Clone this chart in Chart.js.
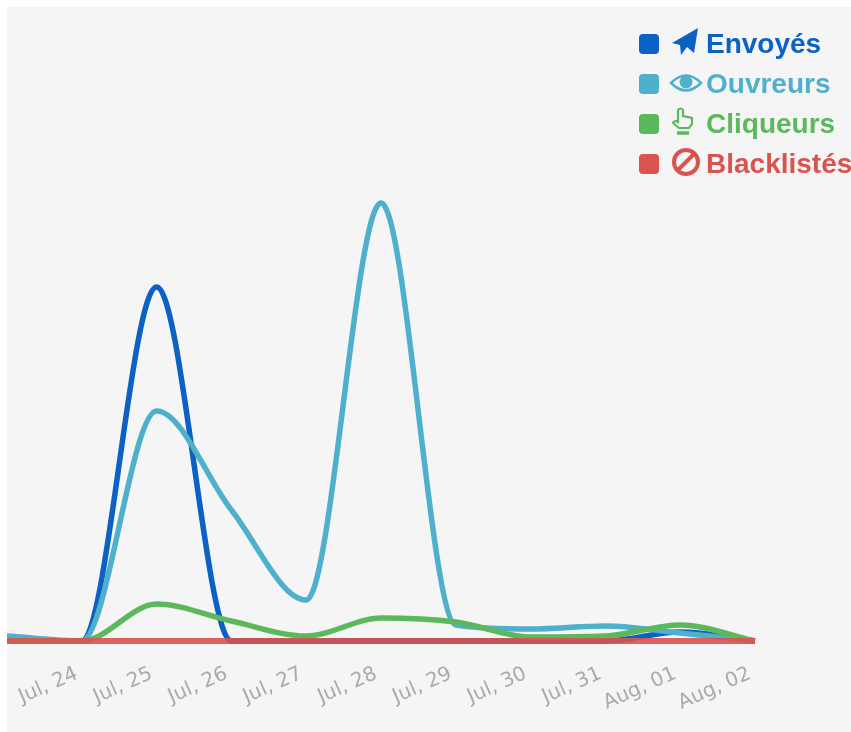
<!DOCTYPE html>
<html lang="fr">
<head>
<meta charset="utf-8">
<title>Statistiques</title>
<script src="https://cdn.jsdelivr.net/npm/chart.js@4/dist/chart.umd.min.js"></script>
<style>
  html, body { margin: 0; padding: 0; background: #fff; width: 851px; height: 732px; overflow: hidden; }
  #zone { position: absolute; left: 7px; top: 7px; width: 844px; height: 725px; background: #f5f5f5; overflow: hidden; }
  #chart { position: absolute; left: 0; top: 0; }
  #legende { position: absolute; left: 632px; top: 17px; font: bold 28px "Liberation Sans", Arial, sans-serif; white-space: nowrap; }
  .ligne { position: absolute; left: 0; height: 40px; line-height: 40px; }
  .carre { position: absolute; left: 0; top: 10px; width: 20px; height: 20px; border-radius: 4px; }
  .ligne svg { position: absolute; left: 30px; top: 3px; width: 34px; height: 34px; }
  .nom { position: absolute; left: 67px; top: 0; }
</style>
</head>
<body>
<div id="zone">
  <canvas id="chart" width="844" height="725"></canvas>
  <div id="legende"></div>
</div>
<script>
// ── DONNEES ──
var jours = ['', 'Jul, 24', 'Jul, 25', 'Jul, 26', 'Jul, 27', 'Jul, 28', 'Jul, 29', 'Jul, 30', 'Jul, 31', 'Aug, 01', 'Aug, 02'];
var envoyes = [0, 0, 354, 0, 0, 0, 0, 0, 0, 9, 0];
var ouvreurs = [5, 0, 230, 131, 41, 438, 16, 12, 15, 8, 0];
var cliqueurs = [0, 0, 37, 20, 5, 23, 19, 4, 5, 16, 0];
var blacklistes = [0, 0, 0, 0, 0, 0, 0, 0, 0, 0, 0];

var noms = ['Envoyés', 'Ouvreurs', 'Cliqueurs', 'Blacklistés'];
var couleurs = ['#0b62c4', '#4fb0cc', '#5cb85c', '#d9534f'];

// icones de la legende
var icones = [
  '<path fill="COL" d="M29 1 L25 26 L18 20 L12 28 L11 18 L3 16 Z"/>',
  '<path fill="none" stroke="COL" stroke-width="2.5" d="M2 16 Q17 1 32 16 Q17 31 2 16 Z"/><circle cx="17" cy="15" r="6.5" fill="COL"/>',
  '<path fill="none" stroke="COL" stroke-width="2.2" d="M9 15 V3 Q12 0 14 3 V9 L23 11 V17 L20 21 H10 L4 16 Q5 13 9 15 Z"/><path stroke="COL" stroke-width="3.5" d="M8 26 H20"/>',
  '<circle cx="17" cy="15" r="12" fill="none" stroke="COL" stroke-width="4"/><path stroke="COL" stroke-width="4" d="M9 23 L25 7"/>'
];

var leg = document.getElementById('legende');
noms.forEach(function(nom, i) {
  var d = document.createElement('div');
  d.className = 'ligne';
  d.style.top = (i * 40) + 'px';
  d.style.color = couleurs[i];
  d.innerHTML = '<span class="carre" style="background:' + couleurs[i] + '"></span>' +
    '<svg viewBox="0 0 34 34">' + icones[i].replace(/COL/g, couleurs[i]) + '</svg>' +
    '<span class="nom">' + nom + '</span>';
  leg.appendChild(d);
});

function serie(i, valeurs, ordre, largeur, couleur) {
  return {
    label: noms[i], data: valeurs, borderColor: couleur || couleurs[i], backgroundColor: couleurs[i],
    borderWidth: largeur, pointRadius: 0, fill: false, cubicInterpolationMode: 'monotone', clip: false, order: ordre
  };
}

new Chart(document.getElementById('chart'), {
  type: 'line',
  data: {
    labels: jours,
    datasets: [
      serie(0, envoyes, 4, 5.5),
      serie(1, ouvreurs, 3, 5.5),
      serie(2, cliqueurs, 2, 5.5),
      // rouge un peu transparent : le bleu se voit dessous
      serie(3, blacklistes, 1, 6, 'rgba(217,83,79,.9)')
    ]
  },
  options: {
    responsive: false,
    animation: false,
    layout: { padding: { left: 0, right: 96, top: 0, bottom: 0 } },
    plugins: { legend: { display: false }, tooltip: { enabled: false } },
    scales: {
      x: {
        grid: { display: false },
        border: { display: false },
        afterFit: function(s) { s.height = 91; s.paddingLeft = 0; s.paddingRight = 0; },
        ticks: { color: '#aaaaaa', font: { family: '"DejaVu Sans"', size: 20 }, minRotation: 24, maxRotation: 24, autoSkip: false, padding: 13, labelOffset: -5 }
      },
      y: { display: false, min: 0, max: 634 }
    }
  }
});
</script>
</body>
</html>
